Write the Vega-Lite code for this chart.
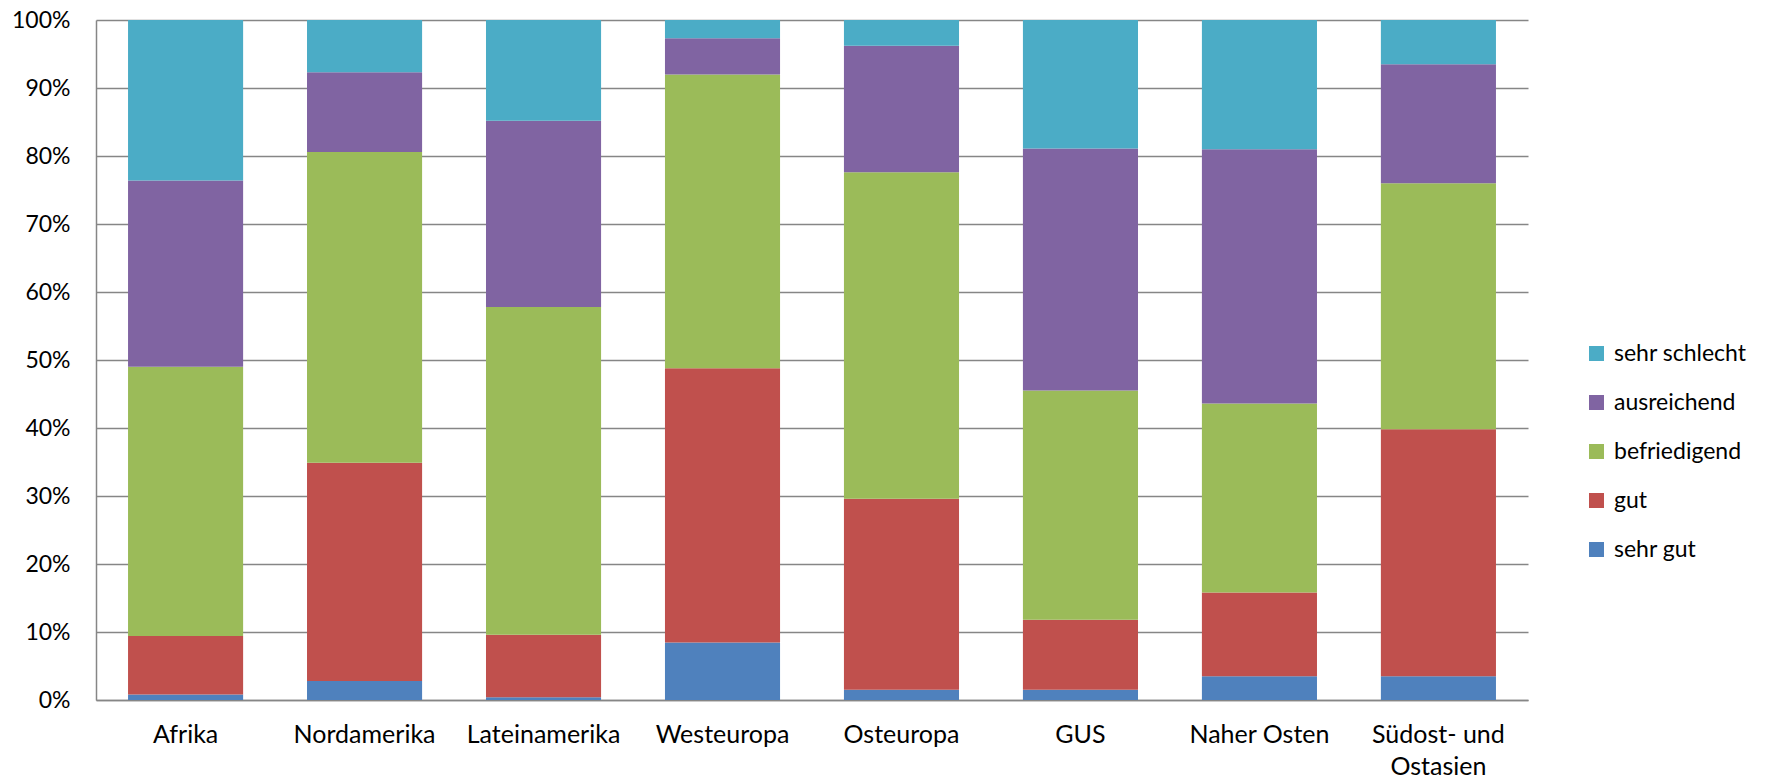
{
  "$schema": "https://vega.github.io/schema/vega-lite/v6.json",
  "width": 1432,
  "height": 680,
  "autosize": {"type": "none"},
  "padding": {"left": 96, "top": 20, "right": 237, "bottom": 80},
  "background": "white",
  "config": {"font": "Lato", "view": {"stroke": null}},
  "datasets": {
    "stufen": [
      {"bewertung": "sehr gut", "note": 1},
      {"bewertung": "gut", "note": 2},
      {"bewertung": "befriedigend", "note": 3},
      {"bewertung": "ausreichend", "note": 4},
      {"bewertung": "sehr schlecht", "note": 5}
    ]
  },
  "data": {
    "values": [
      {"region": "Afrika", "bewertung": "sehr gut", "anteil": 0.8},
      {"region": "Afrika", "bewertung": "gut", "anteil": 8.6},
      {"region": "Afrika", "bewertung": "befriedigend", "anteil": 39.6},
      {"region": "Afrika", "bewertung": "ausreichend", "anteil": 27.4},
      {"region": "Afrika", "bewertung": "sehr schlecht", "anteil": 23.6},
      {"region": "Nordamerika", "bewertung": "sehr gut", "anteil": 2.8},
      {"region": "Nordamerika", "bewertung": "gut", "anteil": 32.1},
      {"region": "Nordamerika", "bewertung": "befriedigend", "anteil": 45.7},
      {"region": "Nordamerika", "bewertung": "ausreichend", "anteil": 11.7},
      {"region": "Nordamerika", "bewertung": "sehr schlecht", "anteil": 7.7},
      {"region": "Lateinamerika", "bewertung": "sehr gut", "anteil": 0.4},
      {"region": "Lateinamerika", "bewertung": "gut", "anteil": 9.2},
      {"region": "Lateinamerika", "bewertung": "befriedigend", "anteil": 48.2},
      {"region": "Lateinamerika", "bewertung": "ausreichend", "anteil": 27.4},
      {"region": "Lateinamerika", "bewertung": "sehr schlecht", "anteil": 14.8},
      {"region": "Westeuropa", "bewertung": "sehr gut", "anteil": 8.45},
      {"region": "Westeuropa", "bewertung": "gut", "anteil": 40.35},
      {"region": "Westeuropa", "bewertung": "befriedigend", "anteil": 43.2},
      {"region": "Westeuropa", "bewertung": "ausreichend", "anteil": 5.3},
      {"region": "Westeuropa", "bewertung": "sehr schlecht", "anteil": 2.7},
      {"region": "Osteuropa", "bewertung": "sehr gut", "anteil": 1.5},
      {"region": "Osteuropa", "bewertung": "gut", "anteil": 28.1},
      {"region": "Osteuropa", "bewertung": "befriedigend", "anteil": 48.0},
      {"region": "Osteuropa", "bewertung": "ausreichend", "anteil": 18.6},
      {"region": "Osteuropa", "bewertung": "sehr schlecht", "anteil": 3.8},
      {"region": "GUS", "bewertung": "sehr gut", "anteil": 1.5},
      {"region": "GUS", "bewertung": "gut", "anteil": 10.3},
      {"region": "GUS", "bewertung": "befriedigend", "anteil": 33.7},
      {"region": "GUS", "bewertung": "ausreichend", "anteil": 35.6},
      {"region": "GUS", "bewertung": "sehr schlecht", "anteil": 18.9},
      {"region": "Naher Osten", "bewertung": "sehr gut", "anteil": 3.5},
      {"region": "Naher Osten", "bewertung": "gut", "anteil": 12.3},
      {"region": "Naher Osten", "bewertung": "befriedigend", "anteil": 27.8},
      {"region": "Naher Osten", "bewertung": "ausreichend", "anteil": 37.4},
      {"region": "Naher Osten", "bewertung": "sehr schlecht", "anteil": 19.0},
      {"region": "Südost- und Ostasien", "bewertung": "sehr gut", "anteil": 3.5},
      {"region": "Südost- und Ostasien", "bewertung": "gut", "anteil": 36.3},
      {"region": "Südost- und Ostasien", "bewertung": "befriedigend", "anteil": 36.2},
      {"region": "Südost- und Ostasien", "bewertung": "ausreichend", "anteil": 17.5},
      {"region": "Südost- und Ostasien", "bewertung": "sehr schlecht", "anteil": 6.5}
    ]
  },
  "transform": [
    {"lookup": "bewertung", "from": {"data": {"name": "stufen"}, "key": "bewertung", "fields": ["note"]}}
  ],
  "mark": {"type": "bar"},
  "encoding": {
    "x": {
      "field": "region",
      "type": "nominal",
      "sort": ["Afrika", "Nordamerika", "Lateinamerika", "Westeuropa", "Osteuropa", "GUS", "Naher Osten", "Südost- und Ostasien"],
      "scale": {"paddingInner": 0.357, "paddingOuter": 0.179},
      "axis": {
        "title": null,
        "labelAngle": 0,
        "ticks": false,
        "domain": true,
        "domainColor": "#868686",
        "domainWidth": 1.5,
        "labelFontSize": 25,
        "labelColor": "#000000",
        "labelPadding": 22,
        "labelLineHeight": 32,
        "labelExpr": "datum.label == 'Südost- und Ostasien' ? ['Südost- und', 'Ostasien'] : datum.label"
      }
    },
    "y": {
      "field": "anteil",
      "type": "quantitative",
      "stack": "normalize",
      "scale": {"domain": [0, 1], "nice": false},
      "axis": {
        "title": null,
        "values": [0, 0.1, 0.2, 0.3, 0.4, 0.5, 0.6, 0.7, 0.8, 0.9, 1],
        "format": ".0%",
        "grid": true,
        "gridColor": "#868686",
        "gridWidth": 1.5,
        "ticks": false,
        "domain": true,
        "domainColor": "#868686",
        "domainWidth": 1.5,
        "labelFontSize": 23,
        "labelColor": "#000000",
        "labelPadding": 26
      }
    },
    "order": {"field": "note", "type": "quantitative", "sort": "ascending"},
    "color": {
      "field": "bewertung",
      "type": "nominal",
      "scale": {
        "domain": ["sehr gut", "gut", "befriedigend", "ausreichend", "sehr schlecht"],
        "range": ["#4F81BD", "#C0504D", "#9BBB59", "#8064A2", "#4BACC6"]
      },
      "legend": {
        "title": null,
        "orient": "none",
        "legendX": 1489,
        "legendY": 322,
        "values": ["sehr schlecht", "ausreichend", "befriedigend", "gut", "sehr gut"],
        "symbolType": "square",
        "symbolSize": 225,
        "symbolStrokeWidth": 0,
        "labelFontSize": 23,
        "labelColor": "#000000",
        "labelOffset": 6,
        "rowPadding": 25
      }
    }
  }
}
